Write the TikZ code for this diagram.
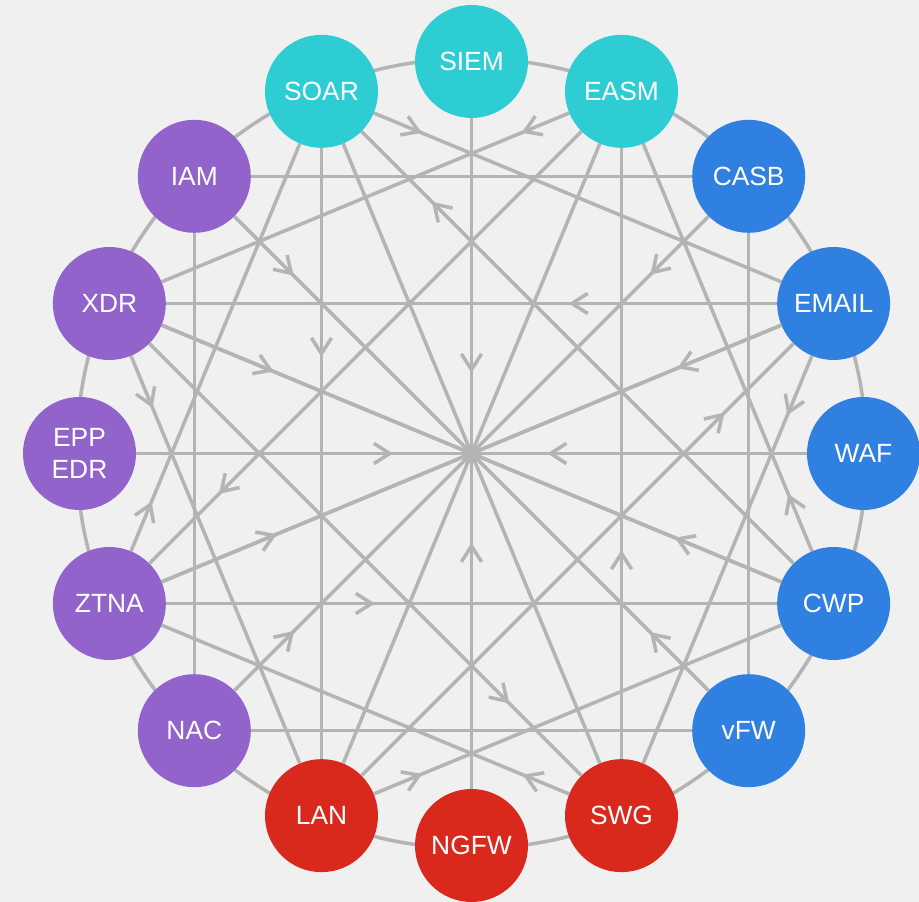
\documentclass[tikz,border=0pt]{standalone}
\usepackage{fontspec}
\setmainfont{Liberation Sans}
\usetikzlibrary{arrows.meta,decorations.markings}

\definecolor{bggray}{HTML}{F0F0F0}
\definecolor{linegray}{HTML}{B4B4B4}
\definecolor{socteal}{HTML}{2ECDD3}
\definecolor{cloudblue}{HTML}{3080E1}
\definecolor{idpurple}{HTML}{9163CB}
\definecolor{netred}{HTML}{D9291D}

\tikzset{
  tool/.style={circle, minimum size=2.26cm, inner sep=0pt, outer sep=0pt,
    text=white, font=\fontsize{15}{18.2}\selectfont, align=center},
  link/.style={draw=linegray, line width=2pt},
  flow/.style={link, postaction={decorate},
    decoration={markings, mark=at position #1 with
      {\arrow[linegray]{Straight Barb[length=9pt,width=11.5pt]}}}},
}

\begin{document}
\begin{tikzpicture}
    \fill[bggray] (-9.43,-8.97) rectangle (8.95,9.07);
    \useasboundingbox (-9.43,-8.97) rectangle (8.95,9.07);

    % Ring
    \draw[linegray, line width=2pt] (0,0) circle (7.9cm);

    % Tools
    \node[tool, fill=socteal] (siem) at (90:7.84) {SIEM};
    \node[tool, fill=socteal] (easm) at (67.5:7.84) {EASM};
    \node[tool, fill=cloudblue] (casb) at (45:7.84) {CASB};
    \node[tool, fill=cloudblue] (email) at (22.5:7.84) {EMAIL};
    \node[tool, fill=cloudblue] (waf) at (0:7.84) {WAF};
    \node[tool, fill=cloudblue] (cwp) at (-22.5:7.84) {CWP};
    \node[tool, fill=cloudblue] (vfw) at (-45:7.84) {vFW};
    \node[tool, fill=netred] (swg) at (-67.5:7.84) {SWG};
    \node[tool, fill=netred] (ngfw) at (-90:7.84) {NGFW};
    \node[tool, fill=netred] (lan) at (-112.5:7.84) {LAN};
    \node[tool, fill=idpurple] (nac) at (-135:7.84) {NAC};
    \node[tool, fill=idpurple] (ztna) at (-157.5:7.84) {ZTNA};
    \node[tool, fill=idpurple] (epp) at (180:7.84) {EPP\\EDR};
    \node[tool, fill=idpurple] (xdr) at (157.5:7.84) {XDR};
    \node[tool, fill=idpurple] (iam) at (135:7.84) {IAM};
    \node[tool, fill=socteal] (soar) at (112.5:7.84) {SOAR};

    % Diameters
    \draw[flow=0.38] (siem) -- (ngfw);
    \draw[flow=0.367] (ngfw) -- (siem);
    \draw[flow=0.383] (epp) -- (waf);
    \draw[flow=0.387] (waf) -- (epp);
    \draw[flow=0.181] (xdr) -- (cwp);
    \draw[flow=0.172] (cwp) -- (xdr);
    \draw[flow=0.186] (ztna) -- (email);
    \draw[flow=0.168] (email) -- (ztna);
    \draw[flow=0.126] (nac) -- (casb);
    \draw[flow=0.123] (casb) -- (nac);
    \draw[flow=0.125] (iam) -- (vfw);
    \draw[flow=0.124] (vfw) -- (iam);
    \draw[link] (easm) -- (lan);
    \draw[link] (soar) -- (swg);

    % Square
    \draw[link] (iam) -- (casb);
    \draw[link] (casb) -- (vfw);
    \draw[link] (vfw) -- (nac);
    \draw[link] (nac) -- (iam);

    % Short chords
    \draw[flow=0.118] (soar) -- (email);
    \draw[flow=0.117] (easm) -- (xdr);
    \draw[flow=0.141] (cwp) -- (easm);
    \draw[flow=0.146] (email) -- (swg);
    \draw[flow=0.119] (lan) -- (cwp);
    \draw[flow=0.114] (swg) -- (ztna);
    \draw[flow=0.128] (xdr) -- (lan);
    \draw[flow=0.122] (ztna) -- (soar);

    % Long chords
    \draw[flow=0.342] (swg) -- (easm);
    \draw[flow=0.342] (soar) -- (lan);
    \draw[flow=0.342] (ztna) -- (cwp);
    \draw[flow=0.341] (email) -- (xdr);
    \draw[flow=0.84] (lan) -- (email);
    \draw[flow=0.833] (xdr) -- (swg);
    \draw[flow=0.839] (easm) -- (ztna);
    \draw[flow=0.837] (cwp) -- (soar);

\end{tikzpicture}
\end{document}
